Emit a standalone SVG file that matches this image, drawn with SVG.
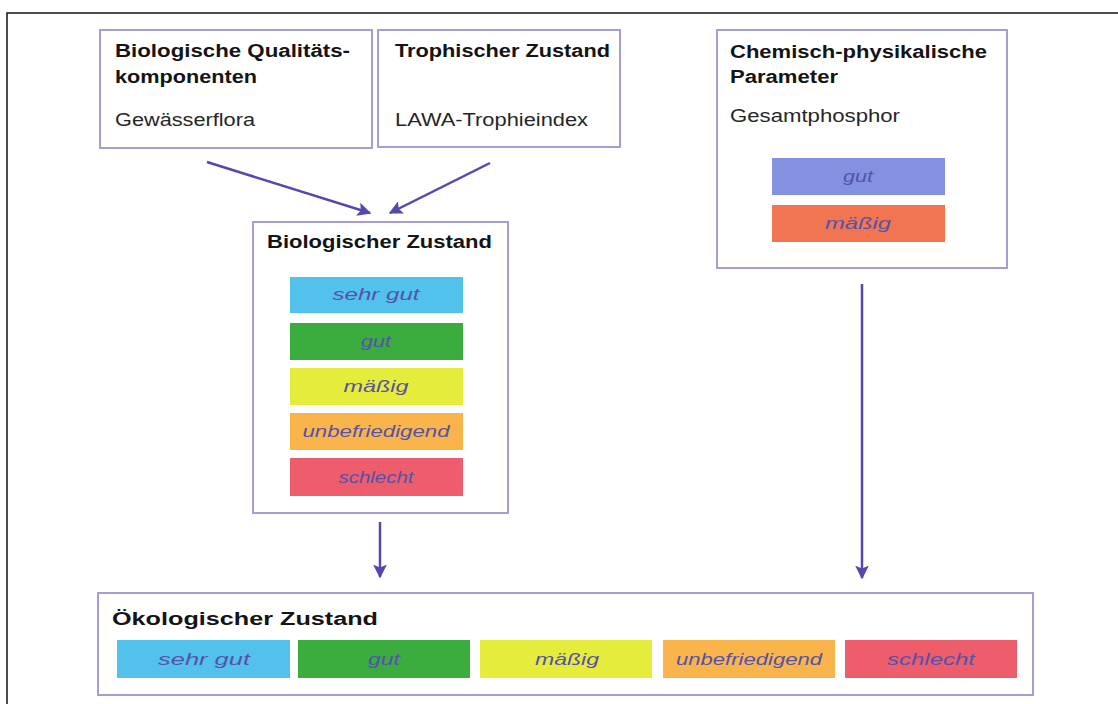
<svg xmlns="http://www.w3.org/2000/svg" width="1118" height="704" viewBox="0 0 1118 704">
  <defs>
    <marker id="head" viewBox="0 0 10 10" refX="9" refY="5" markerWidth="5.5" markerHeight="5.5" orient="auto" markerUnits="strokeWidth">
      <path d="M0,0 L10,5 L0,10 L2,5 Z" fill="#5548ad"/>
    </marker>
    <style>
      .box { fill: #ffffff; stroke: #a99cd6; stroke-width: 2; }
      .title { font-family: "Liberation Sans", Arial, sans-serif; font-weight: bold; font-size: 18px; fill: #141414; }
      .sub { font-family: "Liberation Sans", Arial, sans-serif; font-size: 17.5px; fill: #262626; }
      .lbl { font-family: "Liberation Sans", Arial, sans-serif; font-style: italic; font-size: 16.5px; fill: #5552a8; text-anchor: middle; }
      .conn { stroke: #5548ad; stroke-width: 2.5; fill: none; marker-end: url(#head); }
      .c1 { fill: #52c2ec; }
      .c2 { fill: #3aad3e; }
      .c3 { fill: #e6ec3c; }
      .c4 { fill: #f9b54c; }
      .c5 { fill: #ee5d6c; }
      .cg { fill: #8391e0; }
      .cm { fill: #f27552; }
    </style>
  </defs>

  <rect width="1118" height="704" fill="#ffffff"/>
  <!-- page frame -->
  <path d="M7,704 L7,13 L1118,13" fill="none" stroke="#111111" stroke-width="1.5"/>

  <!-- connectors -->
  <g id="connectors">
    <line class="conn" x1="207" y1="162" x2="370" y2="213"/>
    <line class="conn" x1="490" y1="163" x2="390" y2="213"/>
    <line class="conn" x1="380" y1="522" x2="380" y2="577"/>
    <line class="conn" x1="862" y1="284" x2="862" y2="578"/>
  </g>

  <g id="node-qualitaet">
    <rect class="box" x="100" y="30" width="272" height="118"/>
    <text class="title" x="115" y="57" textLength="235" lengthAdjust="spacingAndGlyphs">Biologische Qualitäts-</text>
    <text class="title" x="115" y="83" textLength="142" lengthAdjust="spacingAndGlyphs">komponenten</text>
    <text class="sub" x="115" y="126" textLength="140" lengthAdjust="spacingAndGlyphs">Gewässerflora</text>
  </g>

  <g id="node-trophie">
    <rect class="box" x="378" y="30" width="242" height="117"/>
    <text class="title" x="395" y="57" textLength="215" lengthAdjust="spacingAndGlyphs">Trophischer Zustand</text>
    <text class="sub" x="395" y="126" textLength="193" lengthAdjust="spacingAndGlyphs">LAWA-Trophieindex</text>
  </g>

  <g id="node-chemie">
    <rect class="box" x="717" y="30" width="290" height="238"/>
    <text class="title" x="730" y="58" textLength="257" lengthAdjust="spacingAndGlyphs">Chemisch-physikalische</text>
    <text class="title" x="730" y="83" textLength="108" lengthAdjust="spacingAndGlyphs">Parameter</text>
    <text class="sub" x="730" y="122" textLength="170" lengthAdjust="spacingAndGlyphs">Gesamtphosphor</text>
    <rect class="cg" x="772" y="158" width="173" height="37"/>
    <text class="lbl" x="858" y="182" textLength="30" lengthAdjust="spacingAndGlyphs">gut</text>
    <rect class="cm" x="772" y="205" width="173" height="37"/>
    <text class="lbl" x="858" y="229" textLength="66" lengthAdjust="spacingAndGlyphs">mäßig</text>
  </g>

  <g id="node-biologisch">
    <rect class="box" x="253" y="222" width="255" height="291"/>
    <text class="title" x="267" y="248" textLength="225" lengthAdjust="spacingAndGlyphs">Biologischer Zustand</text>
    <rect class="c1" x="290" y="277" width="173" height="36"/>
    <text class="lbl" x="376" y="300" textLength="87" lengthAdjust="spacingAndGlyphs">sehr gut</text>
    <rect class="c2" x="290" y="323" width="173" height="37"/>
    <text class="lbl" x="376" y="347" textLength="30" lengthAdjust="spacingAndGlyphs">gut</text>
    <rect class="c3" x="290" y="368" width="173" height="37"/>
    <text class="lbl" x="376" y="392" textLength="65" lengthAdjust="spacingAndGlyphs">mäßig</text>
    <rect class="c4" x="290" y="413" width="173" height="37"/>
    <text class="lbl" x="376" y="437" textLength="147" lengthAdjust="spacingAndGlyphs">unbefriedigend</text>
    <rect class="c5" x="290" y="458" width="173" height="38"/>
    <text class="lbl" x="376" y="483" textLength="75" lengthAdjust="spacingAndGlyphs">schlecht</text>
  </g>

  <g id="node-oekologisch">
    <rect class="box" x="98" y="593" width="935" height="102"/>
    <text class="title" x="112" y="625" textLength="266" lengthAdjust="spacingAndGlyphs">Ökologischer Zustand</text>
    <rect class="c1" x="117" y="640" width="173" height="38"/>
    <text class="lbl" x="204" y="665" textLength="92" lengthAdjust="spacingAndGlyphs">sehr gut</text>
    <rect class="c2" x="298" y="640" width="172" height="38"/>
    <text class="lbl" x="384" y="665" textLength="32" lengthAdjust="spacingAndGlyphs">gut</text>
    <rect class="c3" x="480" y="640" width="172" height="38"/>
    <text class="lbl" x="567" y="665" textLength="64" lengthAdjust="spacingAndGlyphs">mäßig</text>
    <rect class="c4" x="663" y="640" width="172" height="38"/>
    <text class="lbl" x="749" y="665" textLength="146" lengthAdjust="spacingAndGlyphs">unbefriedigend</text>
    <rect class="c5" x="845" y="640" width="172" height="38"/>
    <text class="lbl" x="931" y="665" textLength="88" lengthAdjust="spacingAndGlyphs">schlecht</text>
  </g>
</svg>
